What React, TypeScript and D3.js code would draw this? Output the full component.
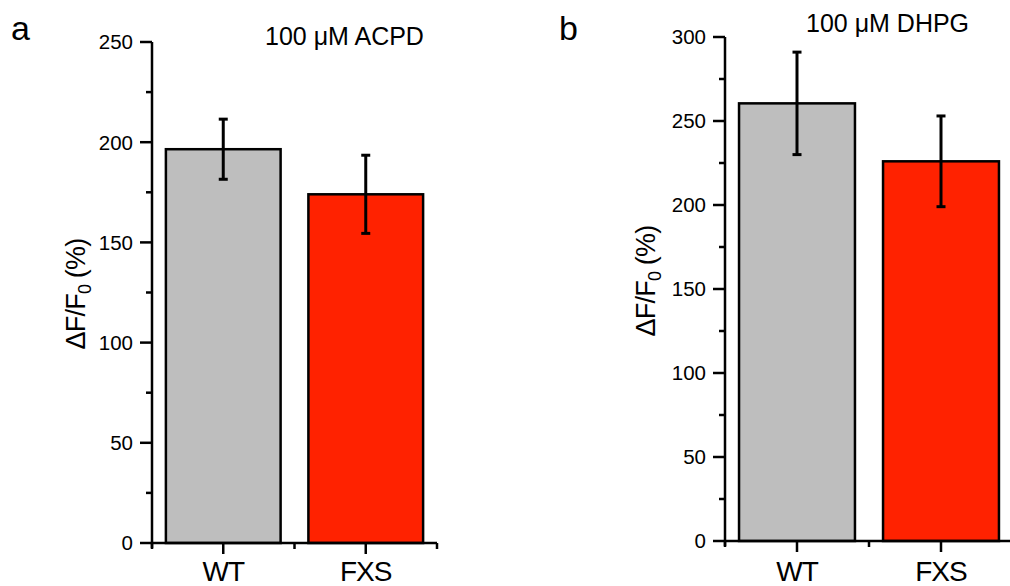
import React from "react";
import { scaleLinear, scalePoint, range } from "d3";

// groups on the x axis
const groups = ["WT", "FXS"];

// panel a: 100 uM ACPD
const acpdMeans = [196.5, 174];
const acpdErrors = [15, 19.5];
const acpdTicks = [0, 50, 100, 150, 200, 250];

// panel b: 100 uM DHPG
const dhpgMeans = [260.5, 226];
const dhpgErrors = [30.5, 27];
const dhpgTicks = [0, 50, 100, 150, 200, 250, 300];

const barColors = ["#bebebe", "#ff2200"];
const FONT = "'Liberation Sans', Arial, sans-serif";

type PanelProps = {
  letter: string;
  title: string;
  means: number[];
  errors: number[];
  ticks: number[];
  left: number;
  right: number;
  bottom: number;
  top: number;
  letterX: number;
  titleX: number;
  titleY: number;
  labelX: number;
  labelY: number;
};

function Panel(props: PanelProps) {
  const { letter, title, means, errors, ticks, left, right, bottom, top, letterX, titleX, titleY, labelX, labelY } = props;
  const maxTick = ticks[ticks.length - 1];

  const yScale = scaleLinear().domain([0, maxTick]).range([bottom, top]);
  const xScale = scalePoint<string>().domain(groups).range([left, right]).padding(0.5);
  const step = xScale.step();
  const barWidth = step * 0.805;
  const capHalf = 4.5;

  // minor ticks halfway between the labelled ones
  const minorY = range(ticks[0] + (ticks[1] - ticks[0]) / 2, maxTick, ticks[1] - ticks[0]);
  const minorX = range(groups.length + 1).map(i => left + i * step);

  return (
    <g>
      <text x={letterX} y={40} fontSize={34} fontFamily={FONT}>{letter}</text>
      <text x={titleX} y={titleY} fontSize={25} fontFamily={FONT}>{title}</text>

      {/* bars */}
      {means.map((m, i) => (
        <rect key={groups[i]}
              x={xScale(groups[i])! - barWidth / 2}
              y={yScale(m)}
              width={barWidth}
              height={bottom - yScale(m)}
              fill={barColors[i]}
              stroke="#000"
              strokeWidth={2.5} />
      ))}

      {/* error bars */}
      {means.map((m, i) => {
        const cx = xScale(groups[i])!;
        const hi = yScale(m + errors[i]);
        const lo = yScale(m - errors[i]);
        return (
          <g key={"err" + i} stroke="#000" strokeWidth={3}>
            <line x1={cx} x2={cx} y1={hi} y2={lo} />
            <line x1={cx - capHalf} x2={cx + capHalf} y1={hi} y2={hi} />
            <line x1={cx - capHalf} x2={cx + capHalf} y1={lo} y2={lo} />
          </g>
        );
      })}

      {/* y axis */}
      <g stroke="#000" strokeWidth={2.5}>
        <line x1={left} x2={left} y1={yScale(maxTick)} y2={bottom + 5} />
        {ticks.map(t => (
          <line key={"t" + t} x1={left - 12} x2={left} y1={yScale(t)} y2={yScale(t)} />
        ))}
        {minorY.map(t => (
          <line key={"m" + t} x1={left - 6} x2={left} y1={yScale(t)} y2={yScale(t)} />
        ))}
      </g>
      {ticks.map(t => (
        <text key={"l" + t} x={left - 19} y={yScale(t)} dy="0.36em" textAnchor="end"
              fontSize={20.5} fontFamily={FONT}>{t}</text>
      ))}

      {/* x axis */}
      <g stroke="#000" strokeWidth={2.5}>
        <line x1={left} x2={right} y1={bottom} y2={bottom} />
        {groups.map(g => (
          <line key={"xt" + g} x1={xScale(g)} x2={xScale(g)} y1={bottom} y2={bottom + 11} />
        ))}
        {minorX.map(x => (
          <line key={"xm" + x} x1={x} x2={x} y1={bottom} y2={bottom + 6} />
        ))}
      </g>
      {groups.map(g => (
        <text key={"xl" + g} x={xScale(g)} y={581} textAnchor="middle"
              fontSize={28} letterSpacing={-1} fontFamily={FONT}>{g}</text>
      ))}

      {/* y label */}
      <text transform={`translate(${labelX},${labelY}) rotate(-90)`} textAnchor="middle"
            fontSize={27} letterSpacing={-0.8} fontFamily={FONT}>
        ΔF/F<tspan fontSize={18} dy={6}>0</tspan><tspan dy={-6}> (%)</tspan>
      </text>
    </g>
  );
}

export default function App() {
  return (
    <div style={{ position: "absolute", left: 0, top: 0 }}>
      <svg width={1010} height={586} style={{ display: "block", background: "#fff" }}>
        <Panel letter="a" title="100 μM ACPD" means={acpdMeans} errors={acpdErrors} ticks={acpdTicks}
               left={152} right={437} bottom={543} top={42}
               letterX={11} titleX={265} titleY={45} labelX={85} labelY={294} />
        <Panel letter="b" title="100 μM DHPG" means={dhpgMeans} errors={dhpgErrors} ticks={dhpgTicks}
               left={725} right={1013} bottom={541} top={37}
               letterX={559} titleX={806} titleY={32} labelX={655} labelY={281} />
      </svg>
    </div>
  );
}
